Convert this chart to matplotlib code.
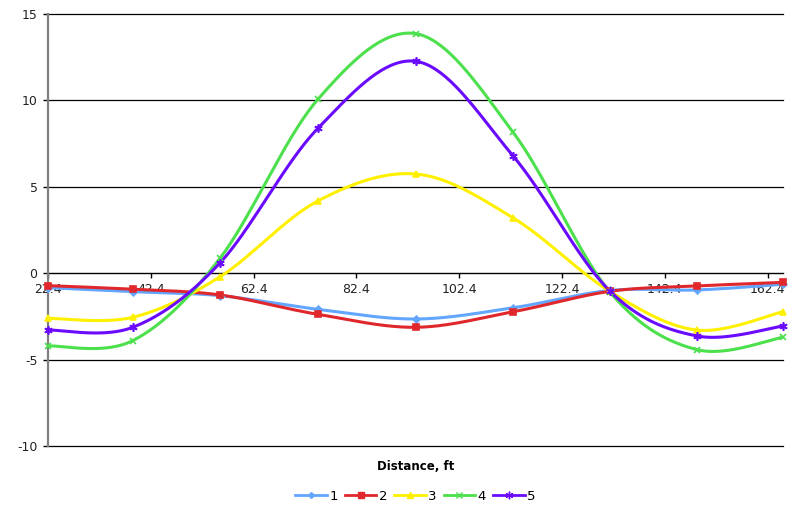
import numpy as np
import matplotlib
matplotlib.use("Agg")
import matplotlib.pyplot as plt
from matplotlib.lines import Line2D

plt.rcParams["axes.unicode_minus"] = False

# Station positions along the section (ft)
distance = [22.4, 38.9, 55.9, 74.9, 94.0, 112.9, 131.7, 148.6, 165.4]

series_labels = ["1", "2", "3", "4", "5"]
s1 = [-0.84, -1.07, -1.30, -2.09, -2.65, -2.00, -1.00, -0.97, -0.64]
s2 = [-0.72, -0.93, -1.26, -2.38, -3.13, -2.23, -1.05, -0.74, -0.53]
s3 = [-2.61, -2.55, -0.20, 4.18, 5.74, 3.20, -1.05, -3.29, -2.23]
s4 = [-4.21, -3.90, 0.88, 10.06, 13.86, 8.15, -1.08, -4.42, -3.71]
s5 = [-3.29, -3.13, 0.61, 8.38, 12.26, 6.78, -1.03, -3.63, -3.06]

x_ticks = [22.4, 42.4, 62.4, 82.4, 102.4, 122.4, 142.4, 162.4]
y_ticks = [-10, -5, 0, 5, 10, 15]

colors = ["#63A6FF", "#E0282C", "#FFF000", "#4CE04C", "#6A0AFF"]
markers = ["D", "s", "^", "x", (6, 2, 0)]
msizes = [3.5, 4.5, 4.5, 5, 6]


def smooth(xs, ys, n=40):
    """Bezier smoothing through every point (Catmull-Rom style tangents)."""
    p = np.column_stack([xs, ys]).astype(float)
    m = len(p)
    out = [p[0]]
    for i in range(m - 1):
        p0 = p[i - 1] if i > 0 else p[i]
        p1 = p[i]
        p2 = p[i + 1]
        p3 = p[i + 2] if i + 2 < m else p[i + 1]
        c1 = p1 + (p2 - p0) / 6.0
        c2 = p2 - (p3 - p1) / 6.0
        t = np.linspace(0, 1, n)[1:, None]
        seg = ((1 - t) ** 3) * p1 + 3 * ((1 - t) ** 2) * t * c1 \
            + 3 * (1 - t) * t ** 2 * c2 + t ** 3 * p2
        out.extend(seg)
    out = np.array(out)
    return out[:, 0], out[:, 1]


fig = plt.figure(figsize=(7.88, 5.09), dpi=100)
ax = fig.add_axes([48 / 788, 1 - 446 / 509, (783 - 48) / 788, (446 - 14) / 509])

for ys, c, mk, ms, lab in zip([s1, s2, s3, s4, s5], colors, markers, msizes, series_labels):
    sx, sy = smooth(distance, ys)
    ax.plot(sx, sy, color=c, lw=2.2, solid_capstyle="round", zorder=3)
    ax.plot(distance, ys, linestyle="none", marker=mk, color=c, ms=ms,
            mew=1.2, zorder=4, clip_on=False)

ax.set_xlim(distance[0], distance[-1])
ax.set_ylim(-10, 15)

# horizontal gridlines
for yv in y_ticks:
    if yv != 0:
        ax.axhline(yv, color="black", lw=0.9, zorder=1, clip_on=False)

ax.spines["top"].set_visible(False)
ax.spines["right"].set_visible(False)
ax.spines["left"].set_color("#808080")
ax.spines["left"].set_linewidth(1.6)
ax.spines["bottom"].set_position(("data", 0))
ax.spines["bottom"].set_color("black")
ax.spines["bottom"].set_linewidth(1.0)
ax.spines["bottom"].set_zorder(2)

ax.set_xticks(x_ticks)
ax.set_xticklabels([f"{v:.1f}" for v in x_ticks])
ax.set_yticks(y_ticks)
ax.tick_params(axis="x", direction="out", length=3.5, width=1, pad=3.5,
               labelsize=9, colors="black", labelcolor="#222222")
ax.tick_params(axis="y", direction="out", length=3.5, width=1, pad=4,
               labelsize=9, colors="black", labelcolor="#222222")

fig.text(415.5 / 788, 1 - 467 / 509, "Distance, ft", ha="center", va="center",
         fontsize=8.5, fontweight="bold")

handles = [Line2D([0], [0], color=c, lw=2.0, marker=mk, ms=ms - 0.5, mew=1.0)
           for c, mk, ms in zip(colors, markers, msizes)]
fig.legend(handles, series_labels, loc="center", bbox_to_anchor=(415.5 / 788, 1 - 496 / 509),
           ncol=5, frameon=False, fontsize=9.5, handlelength=2.4, handletextpad=0.2,
           columnspacing=0.5)

fig.savefig("out.png", dpi=100)
